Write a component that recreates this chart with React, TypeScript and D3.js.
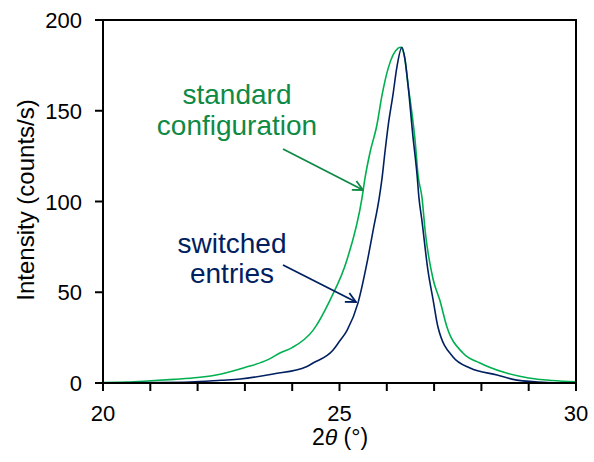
import React from "react";
import * as d3 from "d3";

const standardX = [20.0, 20.5, 21.0, 21.5, 22.0, 22.5, 23.0, 23.5, 23.74, 24.0, 24.44, 24.8, 25.16, 25.476, 25.54, 25.645, 25.79, 25.9, 26.03, 26.24, 26.29, 26.38, 26.45, 26.53, 26.6, 26.66, 26.745, 26.81, 26.98, 27.12, 27.27, 27.61, 27.97, 28.46, 29.0, 29.5, 30.0];
const standardY = [0.3, 0.5, 1.2, 2.0, 3.0, 5.0, 8.5, 13, 16.5, 19.5, 29, 45.7, 68, 102, 113, 127, 142, 158.7, 173.5, 184.5, 185, 179, 164, 149, 133, 114.6, 102, 84, 57, 45.7, 31, 16.5, 11, 6, 2.8, 1.4, 0.6];

const switchedX = [20.0, 21.0, 21.84, 22.5, 22.9, 23.6, 24.3, 24.44, 24.86, 25.0, 25.16, 25.39, 25.58, 25.71, 25.84, 25.9, 25.96, 26.03, 26.13, 26.21, 26.32, 26.38, 26.45, 26.55, 26.64, 26.68, 26.74, 26.87, 26.98, 27.08, 27.4, 27.76, 28.33, 28.75, 29.4, 30.0];
const switchedY = [0, 0.2, 0.5, 1.5, 2.2, 5, 9, 11, 18, 23, 29, 44, 66, 84, 102, 113, 127, 142, 158.7, 173.5, 185, 179, 164, 136.6, 114.6, 102, 90, 62, 45.7, 31, 14.3, 8.3, 4.4, 1.6, 0.3, 0];

const xMajorTicks = [20, 25, 30];
const xMinorTicks = [21, 22, 23, 24, 26, 27, 28, 29];
const yTicks = [0, 50, 100, 150, 200];

const GREEN = "#00B050";
const GREEN_TEXT = "#0E8A45";
const BLUE = "#002060";
const FONT = "'Liberation Sans', Arial, sans-serif";

export default function App() {
  const W = 594, H = 462;
  const left = 103, right = 576, top = 20, bottom = 383;
  const x = d3.scaleLinear().domain([20, 30]).range([left, right]);
  const y = d3.scaleLinear().domain([0, 200]).range([bottom, top]);
  const line = d3.line<number>().curve(d3.curveMonotoneX);
  const gPath = line(standardX.map((v, i) => [x(v), y(standardY[i])]) as any);
  const bPath = line(switchedX.map((v, i) => [x(v), y(switchedY[i])]) as any);

  return (
    <svg width={W} height={H} style={{ position: "absolute", left: 0, top: 0, background: "#fff" }} fontFamily={FONT}>
      <defs>
        <marker id="ag" viewBox="0 0 12 12" refX="11" refY="6" markerWidth="12" markerHeight="12" markerUnits="userSpaceOnUse" orient="auto">
          <path d="M1,1 L11,6 L1,11" fill="none" stroke={GREEN_TEXT} strokeWidth={1.8} />
        </marker>
        <marker id="ab" viewBox="0 0 12 12" refX="11" refY="6" markerWidth="12" markerHeight="12" markerUnits="userSpaceOnUse" orient="auto">
          <path d="M1,1 L11,6 L1,11" fill="none" stroke={BLUE} strokeWidth={1.8} />
        </marker>
      </defs>
      <path d={gPath || ""} fill="none" stroke={GREEN} strokeWidth={1.6} />
      <path d={bPath || ""} fill="none" stroke={BLUE} strokeWidth={1.6} />
      <rect x={left} y={top} width={right - left} height={bottom - top} fill="none" stroke="#000" strokeWidth={2} />
      {yTicks.map((t) => (
        <g key={"y" + t}>
          <line x1={left - 8} x2={left} y1={y(t)} y2={y(t)} stroke="#000" strokeWidth={2} />
          <text x={82} y={y(t) + 8} textAnchor="end" fontSize={22} fill="#000">{t}</text>
        </g>
      ))}
      {xMajorTicks.concat(xMinorTicks).map((t) => (
        <line key={"xt" + t} x1={x(t)} x2={x(t)} y1={bottom} y2={bottom + 8} stroke="#000" strokeWidth={2} />
      ))}
      {xMajorTicks.map((t) => (
        <text key={"xl" + t} x={x(t)} y={421} textAnchor="middle" fontSize={22} fill="#000">{t}</text>
      ))}
      <text x={340} y={445} textAnchor="middle" fontSize={23} fill="#000">
        2<tspan fontStyle="italic">θ</tspan> (°)
      </text>
      <text transform={`translate(34,200) rotate(-90)`} textAnchor="middle" fontSize={24} fill="#000">Intensity (counts/s)</text>

      <text x={237} y={104} textAnchor="middle" fontSize={28} fill={GREEN_TEXT}>standard</text>
      <text x={237} y={135} textAnchor="middle" fontSize={28} fill={GREEN_TEXT}>configuration</text>
      <line x1={283} y1={149} x2={363} y2={190} stroke={GREEN_TEXT} strokeWidth={1.8} markerEnd="url(#ag)" />

      <text x={232} y={253} textAnchor="middle" fontSize={28} fill={BLUE}>switched</text>
      <text x={232} y={283} textAnchor="middle" fontSize={28} fill={BLUE}>entries</text>
      <line x1={283} y1={265} x2={356} y2={302} stroke={BLUE} strokeWidth={1.8} markerEnd="url(#ab)" />
    </svg>
  );
}
